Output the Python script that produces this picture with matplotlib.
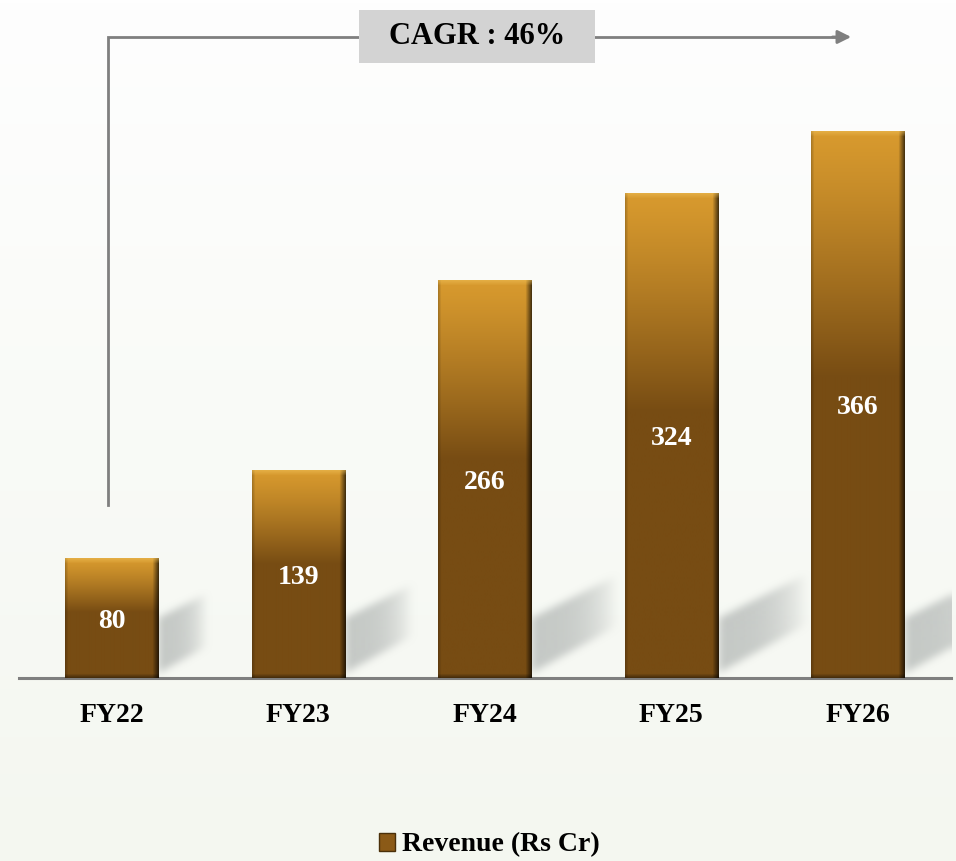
import numpy as np
import matplotlib.pyplot as plt
from matplotlib.patches import Rectangle, Patch
from matplotlib.colors import to_rgb

years = ["FY22", "FY23", "FY24", "FY25", "FY26"]
revenue = [80, 139, 266, 324, 366]
series_name = "Revenue (Rs Cr)"

plt.rcParams['font.family'] = ['Liberation Serif', 'DejaVu Serif']
plt.rcParams['font.weight'] = 'bold'

gold = np.array(to_rgb("#d89a2e"))
brown = np.array(to_rgb("#774c13"))
grey_line = "#7f7f7f"


def box_blur(a, r, axis):
    # simple running mean along one axis
    pad = [(0, 0), (0, 0)]
    pad[axis] = (r + 1, r)
    c = np.cumsum(np.pad(a, pad, mode='edge'), axis=axis)
    n = a.shape[axis]
    hi = np.take(c, np.arange(2 * r + 1, 2 * r + 1 + n), axis=axis)
    lo = np.take(c, np.arange(0, n), axis=axis)
    return (hi - lo) / (2 * r + 1)


def bar_image(w, h):
    rows = np.arange(h)[:, None] / max(h - 1, 1)
    cols = np.arange(w)[None, :]
    frac = np.clip(rows / 0.45, 0, 1) ** 1.2
    img = gold + (brown - gold) * frac[..., None]
    img = np.broadcast_to(img, (h, w, 3)).copy()
    # bevel: dark right edge, slightly dark left edge, bright top, dark bottom
    dr = np.clip((w - 1 - cols) / 6.0, 0, 1)
    shade = 0.35 + 0.65 * dr
    dl = np.clip(cols / 3.0, 0, 1)
    shade = shade * (0.8 + 0.2 * dl)
    img *= shade[..., None]
    ri = np.arange(h)[:, None]
    top = np.clip(1 - ri / 5.0, 0, 1)[..., None] * np.ones((1, w, 1))
    img = img * (1 - 0.5 * top) + np.array(to_rgb("#f0c25a")) * 0.5 * top
    bot = np.clip(1 - (h - 1 - ri) / 4.0, 0, 1)[..., None]
    img = img * (1 - 0.4 * bot)
    return np.clip(img, 0, 1)


fig = plt.figure(figsize=(9.56, 8.61), dpi=100)

bg = fig.add_axes([0, 0, 1, 1], zorder=-10)
g = np.linspace(0, 1, 256)[:, None, None]
c_top = np.array(to_rgb("#fefefe"))
c_bot = np.array(to_rgb("#f4f7f0"))
bg.imshow(c_top + (c_bot - c_top) * g, aspect='auto', extent=[0, 1, 0, 1])
bg.axis('off')

ax = fig.add_axes([0.0196, 0.2125, 0.975, 0.781])
ax.patch.set_alpha(0)
xmin, xmax, ymin, ymax = -0.5, 4.5, 0, 450
ax.set_xlim(xmin, xmax)
ax.set_ylim(ymin, ymax)

x = np.arange(len(years))
width = 0.5
bars = ax.bar(x, revenue, width=width, color='none', zorder=3)

# pixel geometry of the axes
W = int(round(fig.bbox.width * 0.975))
H = int(round(fig.bbox.height * 0.781))
origin = ax.transData.transform((xmin, 0))
cat_px = ax.transData.transform((1, 0))[0] - ax.transData.transform((0, 0))[0]

# shadows behind bars
alpha = np.zeros((H, W))
yy = np.arange(H)[:, None]
for b, v in zip(bars, revenue):
    xr = ax.transData.transform((b.get_x() + b.get_width(), 0))[0] - origin[0]
    L = 0.5 * cat_px * (1 - np.exp(-v / 110.0))
    for u in range(int(xr), min(int(xr + L), W)):
        dx = u - xr
        lower = 5 + 0.55 * dx
        upper = 60 + 0.5 * dx
        fade = 1 - (dx / L) ** 3
        col = (yy[:, 0] >= lower) & (yy[:, 0] <= upper)
        alpha[col, u] = np.maximum(alpha[col, u], fade)
for _ in range(2):
    alpha = box_blur(alpha, 4, 0)
    alpha = box_blur(alpha, 4, 1)
shadow = np.zeros((H, W, 4))
shadow[..., :3] = to_rgb("#c3c7c4")
shadow[..., 3] = np.clip(alpha, 0, 1) * 0.95
ax.imshow(shadow, extent=[xmin, xmax, ymin, ymax], origin='lower',
          aspect='auto', zorder=2, interpolation='bilinear')

# gradient bars
for b, v in zip(bars, revenue):
    x0, x1 = b.get_x(), b.get_x() + b.get_width()
    p0 = ax.transData.transform((x0, 0))
    p1 = ax.transData.transform((x1, v))
    w_px = int(round(p1[0] - p0[0]))
    h_px = int(round(p1[1] - p0[1]))
    ax.imshow(bar_image(w_px, h_px), extent=[x0, x1, 0, v], aspect='auto',
              zorder=3, interpolation='bilinear')
    ax.text(b.get_x() + b.get_width() / 2, v / 2, str(v), color='white',
            ha='center', va='center_baseline', fontsize=20, fontweight='bold',
            zorder=5)

ax.set_xlim(xmin, xmax)
ax.set_ylim(ymin, ymax)

# CAGR arrow
cagr = (revenue[-1] / revenue[0]) ** (1 / (len(revenue) - 1)) - 1
ax.plot([-0.02, -0.02, 3.9], [116, 429, 429], color=grey_line, lw=2,
        zorder=4, solid_joinstyle='miter', clip_on=False)
ax.annotate('', xy=(3.98, 429), xytext=(3.85, 429),
            arrowprops=dict(arrowstyle='-|>', color=grey_line, lw=2,
                            mutation_scale=20), zorder=4)
ax.add_patch(Rectangle((1.325, 411.3), 1.265, 35.5, facecolor='#d3d3d3',
                       edgecolor='none', zorder=5, clip_on=False))
ax.text(1.96, 429, f"CAGR : {cagr * 100:.0f}%", ha='center', va='center',
        fontsize=22, fontweight='bold', zorder=6)

ax.set_xticks(x)
ax.set_xticklabels(years, fontsize=20, fontweight='bold')
ax.tick_params(axis='x', length=0, pad=18)
ax.set_yticks([])
for s in ['left', 'right', 'top']:
    ax.spines[s].set_visible(False)
ax.spines['bottom'].set_color(grey_line)
ax.spines['bottom'].set_linewidth(2.2)

fig.legend(handles=[Patch(facecolor='#8b5a17', edgecolor='#4a300a')],
           labels=[series_name], loc='center', bbox_to_anchor=(0.512, 1 - 845 / 861),
           frameon=False, fontsize=20, handlelength=0.6, handleheight=0.6,
           handletextpad=0.25, borderpad=0.2)

plt.savefig("out.png", dpi=100)
